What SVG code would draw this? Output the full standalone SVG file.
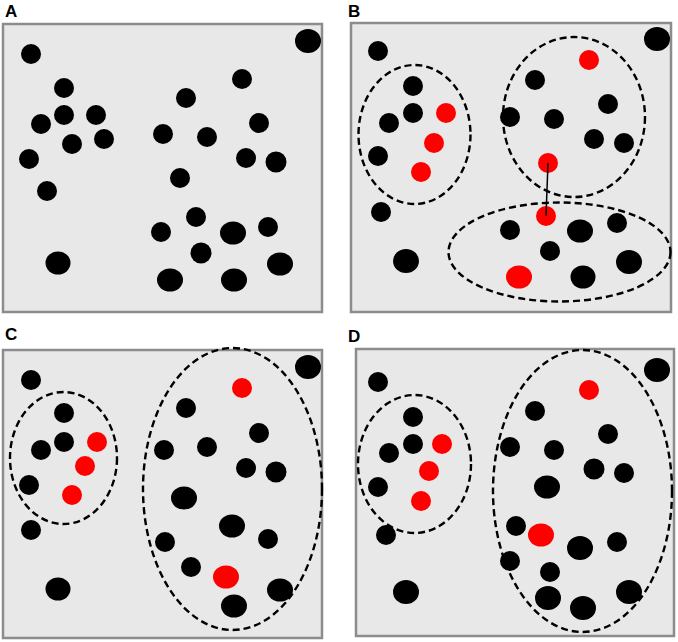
<svg xmlns="http://www.w3.org/2000/svg" width="678" height="642" viewBox="0 0 678 642">
<style>
.frame{fill:#e8e8e8;stroke:#8c8c8c;stroke-width:2.5}
.b{fill:#000}
.r{fill:#ff0000}
.cl{fill:none;stroke:#000;stroke-width:2.4;stroke-dasharray:7,4}
.lbl{font-family:"Liberation Sans",Arial,sans-serif;font-weight:bold;font-size:17px;fill:#000}
</style>
<rect width="678" height="642" fill="#fff"/>

<g id="panelA">
<text class="lbl" x="5" y="17">A</text>
<rect class="frame" x="3" y="24" width="319" height="288"/>
<g class="b">
<circle cx="31" cy="54" r="10"/>
<ellipse cx="308" cy="41" rx="13" ry="12"/>
<circle cx="64" cy="88" r="10"/>
<circle cx="64" cy="115" r="10"/>
<circle cx="96" cy="115" r="10"/>
<circle cx="41" cy="124" r="10"/>
<circle cx="72" cy="144" r="10"/>
<circle cx="104" cy="139" r="10"/>
<circle cx="29" cy="159" r="10"/>
<circle cx="47" cy="191" r="10"/>
<ellipse cx="58" cy="263" rx="12.5" ry="11.5"/>
<circle cx="242" cy="79" r="10"/>
<circle cx="186" cy="98" r="10"/>
<circle cx="259" cy="123" r="10"/>
<circle cx="163" cy="134" r="10"/>
<circle cx="207" cy="137" r="10"/>
<circle cx="246" cy="158" r="10"/>
<circle cx="276" cy="162" r="10.5"/>
<circle cx="180" cy="178" r="10"/>
<circle cx="196" cy="217" r="10"/>
<circle cx="161" cy="232" r="10"/>
<ellipse cx="233" cy="233" rx="13" ry="11.5"/>
<circle cx="268" cy="227" r="10"/>
<circle cx="201" cy="253" r="10.5"/>
<ellipse cx="280" cy="264" rx="13" ry="11.5"/>
<ellipse cx="170" cy="280" rx="13" ry="11.5"/>
<ellipse cx="234" cy="280" rx="13" ry="11.5"/>
</g>
</g>

<g id="panelB">
<text class="lbl" x="348" y="17">B</text>
<rect class="frame" x="351" y="23" width="320" height="289"/>
<g class="b">
<circle cx="378" cy="51" r="10"/>
<ellipse cx="657" cy="39" rx="13" ry="12"/>
<circle cx="413" cy="86" r="10"/>
<circle cx="413" cy="113" r="10"/>
<circle cx="389" cy="123" r="10"/>
<circle cx="378" cy="156" r="10"/>
<circle cx="381" cy="212" r="10"/>
<ellipse cx="406" cy="261" rx="13" ry="12"/>
<circle cx="535" cy="80" r="10"/>
<circle cx="608" cy="104" r="10"/>
<circle cx="510" cy="117" r="10"/>
<circle cx="554" cy="119" r="10"/>
<circle cx="594" cy="139" r="10"/>
<circle cx="624" cy="143" r="10"/>
<circle cx="510" cy="230" r="10"/>
<ellipse cx="580" cy="231" rx="13" ry="11.5"/>
<circle cx="617" cy="223" r="10"/>
<circle cx="550" cy="251" r="10"/>
<ellipse cx="629" cy="262" rx="13" ry="12"/>
<ellipse cx="583" cy="277" rx="12.5" ry="11.5"/>
</g>
<g class="r">
<circle cx="446" cy="113" r="10"/>
<circle cx="434" cy="143" r="10"/>
<circle cx="421" cy="172" r="10"/>
<circle cx="589" cy="60" r="10"/>
<circle cx="548" cy="163" r="10"/>
<circle cx="546" cy="216" r="10"/>
<ellipse cx="519" cy="277" rx="13" ry="11.5"/>
</g>
<g id="connectors">
<line x1="548" y1="163" x2="546" y2="216" stroke="#000" stroke-width="1.5"/>
</g>
<ellipse class="cl" cx="414.5" cy="134.5" rx="56" ry="69.5"/>
<ellipse class="cl" cx="574" cy="117" rx="71" ry="80"/>
<ellipse class="cl" cx="559.5" cy="252" rx="111" ry="49.5"/>
</g>

<g id="panelC">
<text class="lbl" x="5" y="340">C</text>
<rect class="frame" x="3" y="350" width="319" height="288"/>
<g class="b">
<circle cx="31" cy="380" r="10"/>
<ellipse cx="308" cy="367" rx="13" ry="12"/>
<circle cx="64" cy="413" r="10"/>
<circle cx="64" cy="442" r="10"/>
<circle cx="41" cy="450" r="10"/>
<circle cx="29" cy="485" r="10"/>
<circle cx="31" cy="530" r="10"/>
<ellipse cx="58" cy="589" rx="12.5" ry="11.5"/>
<circle cx="186" cy="408" r="10"/>
<circle cx="259" cy="433" r="10"/>
<circle cx="164" cy="450" r="10"/>
<circle cx="207" cy="447" r="10"/>
<circle cx="246" cy="468" r="10"/>
<circle cx="276" cy="472" r="10.5"/>
<ellipse cx="184" cy="498" rx="13" ry="11.5"/>
<ellipse cx="232" cy="526" rx="13" ry="11.5"/>
<circle cx="165" cy="542" r="10"/>
<circle cx="268" cy="539" r="10"/>
<circle cx="191" cy="567" r="10"/>
<ellipse cx="280" cy="590" rx="13" ry="11.5"/>
<ellipse cx="234" cy="606" rx="13" ry="11.5"/>
</g>
<g class="r">
<circle cx="97" cy="442" r="10"/>
<circle cx="85" cy="466" r="10"/>
<circle cx="72" cy="495" r="10"/>
<circle cx="242" cy="388" r="10"/>
<ellipse cx="226" cy="577" rx="13" ry="11.5"/>
</g>
<ellipse class="cl" cx="63.5" cy="458" rx="53.5" ry="66"/>
<ellipse class="cl" cx="232.5" cy="489" rx="89.5" ry="141"/>
</g>

<g id="panelD">
<text class="lbl" x="348" y="342">D</text>
<rect class="frame" x="356" y="349" width="318" height="287"/>
<g class="b">
<circle cx="378" cy="382" r="10"/>
<ellipse cx="657" cy="370" rx="13" ry="12"/>
<circle cx="413" cy="417" r="10"/>
<circle cx="413" cy="444" r="10"/>
<circle cx="389" cy="453" r="10"/>
<circle cx="378" cy="487" r="10"/>
<circle cx="386" cy="535" r="10"/>
<ellipse cx="406" cy="592" rx="13" ry="12"/>
<circle cx="535" cy="411" r="10"/>
<circle cx="608" cy="434" r="10"/>
<circle cx="510" cy="447" r="10"/>
<circle cx="554" cy="450" r="10"/>
<circle cx="594" cy="469" r="10.5"/>
<circle cx="624" cy="473" r="10"/>
<ellipse cx="547" cy="487" rx="13" ry="11.5"/>
<circle cx="516" cy="526" r="10"/>
<ellipse cx="580" cy="548" rx="13" ry="12"/>
<circle cx="617" cy="542" r="10"/>
<circle cx="510" cy="561" r="10"/>
<circle cx="550" cy="572" r="10"/>
<ellipse cx="548" cy="598" rx="13" ry="12"/>
<ellipse cx="583" cy="608" rx="13" ry="12"/>
<ellipse cx="629" cy="592" rx="13" ry="12"/>
</g>
<g class="r">
<circle cx="442" cy="444" r="10"/>
<circle cx="429" cy="471" r="10"/>
<circle cx="421" cy="501" r="10"/>
<circle cx="589" cy="390" r="10"/>
<ellipse cx="541" cy="535" rx="13" ry="11.5"/>
</g>
<ellipse class="cl" cx="414.5" cy="464" rx="56.5" ry="69"/>
<ellipse class="cl" cx="582.5" cy="491" rx="89.5" ry="141"/>
</g>
</svg>
